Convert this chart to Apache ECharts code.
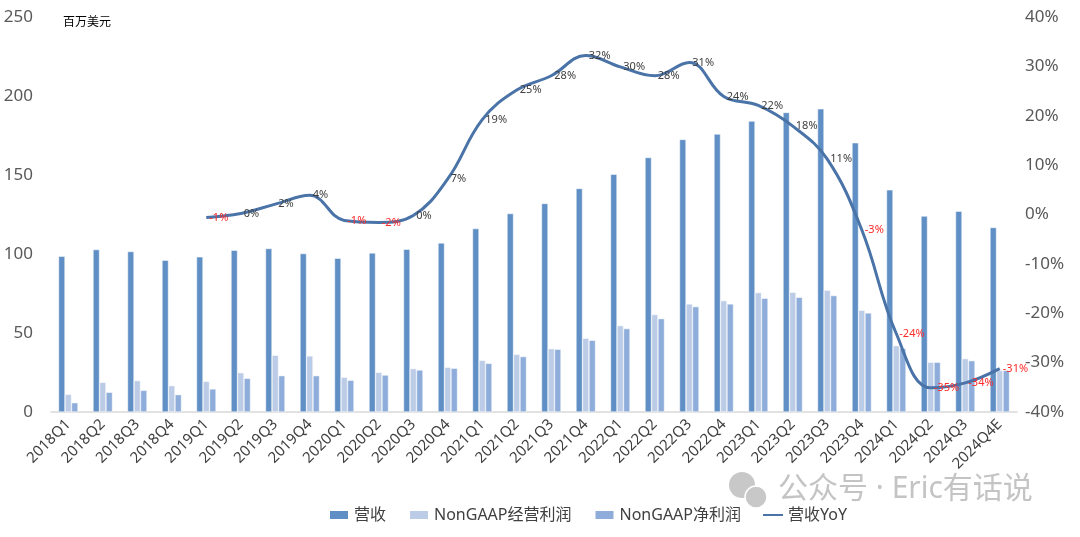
<!DOCTYPE html>
<html>
<head>
<meta charset="utf-8">
<script src="https://cdn.jsdelivr.net/npm/echarts@6/dist/echarts.min.js"></script>
<style>
html,body{margin:0;padding:0;background:#fff;}
#main{width:1080px;height:537px;}
</style>
</head>
<body>
<div id="main"></div>
<script>
// 季度
var quarters = ['2018Q1','2018Q2','2018Q3','2018Q4','2019Q1','2019Q2','2019Q3','2019Q4',
    '2020Q1','2020Q2','2020Q3','2020Q4','2021Q1','2021Q2','2021Q3','2021Q4',
    '2022Q1','2022Q2','2022Q3','2022Q4','2023Q1','2023Q2','2023Q3','2023Q4',
    '2024Q1','2024Q2','2024Q3','2024Q4E'];
// 营收 (百万美元)
var revenue = [98.6,102.8,101.6,96.1,98.2,102.4,103.5,100.3,97.3,100.7,103,107,
    116.1,125.6,132,141.5,150.5,161.1,172.5,175.9,184.1,189.6,191.9,170.4,
    140.6,124,127.1,116.8];
// NonGAAP经营利润
var opIncome = [11.2,18.8,19.9,16.7,19.4,24.9,35.9,35.5,22,25.1,27.5,28.3,
    32.7,36.5,40.1,46.7,54.7,61.7,68.4,70.5,75.6,75.8,77.1,64.4,
    42,31.5,33.8,26.3];
// NonGAAP净利润
var netIncome = [5.9,12.5,13.7,11,14.6,21.3,23,23,20.1,23.4,26.6,27.7,
    30.8,35.1,39.7,45.4,52.8,59.1,66.7,68.4,72,72.6,73.7,62.7,
    40.3,31.5,32.5,26.3];
// 营收YoY (%)
var yoy = [null,null,null,null,-0.6,0.2,2.1,3.9,-1.2,-1.6,-0.2,7.2,
    19.2,25.2,28.1,32.2,29.9,28.1,30.8,23.9,22.1,17.9,11.2,-3.1,
    -24.1,-35.1,-34.1,-31.2];

var fontFamily = '"Noto Sans","Noto Sans CJK SC",sans-serif';

// 负值标签用红色
var yoyData = yoy.map(function(v){
    if(v === null) return null;
    return {value: v, label: {color: v < -0.5 ? '#ff2b2b' : '#404040'}};
});

var chart = echarts.init(document.getElementById('main'));
var option = {
    animation: false,
    textStyle: {fontFamily: fontFamily},
    grid: {left: 51, right: 63, top: 17, bottom: 125},
    legend: {
        bottom: 9,
        left: 323,
        itemWidth: 20,
        itemHeight: 10,
        itemGap: 22,
        textStyle: {fontSize: 16, color: '#404040', fontFamily: fontFamily},
        data: [
            {name: '营收', icon: 'rect'},
            {name: 'NonGAAP经营利润', icon: 'rect'},
            {name: 'NonGAAP净利润', icon: 'rect'},
            {name: '营收YoY', icon: 'path://M0,0L20,0L20,0.01L0,0.01Z M0,4L20,4L20,6L0,6Z M0,10L20,10L20,10.01L0,10.01Z'}
        ]
    },
    graphic: [
        {type: 'text', left: 63, top: 17,
            style: {text: '百万美元', fontSize: 12, fill: '#000', fontFamily: fontFamily}},
        {type: 'circle', shape: {cx: 742, cy: 485, r: 13}, style: {fill: '#c8c8c8'}},
        {type: 'circle', shape: {cx: 756, cy: 497, r: 11}, style: {fill: '#c8c8c8', stroke: '#fff', lineWidth: 1.5}},
        {type: 'text', left: 778, top: 474,
            style: {text: '公众号 · Eric有话说', fontSize: 30, fill: '#c4c4c4', fontFamily: fontFamily}}
    ],
    xAxis: {
        type: 'category',
        data: quarters,
        axisLine: {lineStyle: {color: '#d9d9d9', width: 1.5}},
        axisTick: {show: false},
        axisLabel: {interval: 0, rotate: 45, fontSize: 15, color: '#404040', margin: 10}
    },
    yAxis: [
        {
            type: 'value', min: 0, max: 250, interval: 50,
            splitLine: {show: false},
            axisLine: {show: false},
            axisLabel: {fontSize: 17, color: '#595959', margin: 18}
        },
        {
            type: 'value', min: -40, max: 40, interval: 10,
            splitLine: {show: false},
            axisLine: {show: false},
            axisLabel: {fontSize: 17, color: '#595959', margin: 8, formatter: '{value}%'}
        }
    ],
    series: [
        {
            name: '营收', type: 'bar', data: revenue,
            barWidth: 6.5, barGap: '0%',
            itemStyle: {color: '#5f8fc5', borderColor: '#fff', borderWidth: 0.5}
        },
        {
            name: 'NonGAAP经营利润', type: 'bar', data: opIncome,
            barWidth: 6.5, barGap: '0%',
            itemStyle: {color: '#bccce6', borderColor: '#fff', borderWidth: 0.5}
        },
        {
            name: 'NonGAAP净利润', type: 'bar', data: netIncome,
            barWidth: 6.5, barGap: '0%',
            itemStyle: {color: '#8eadda', borderColor: '#fff', borderWidth: 0.5}
        },
        {
            name: '营收YoY', type: 'line', yAxisIndex: 1, data: yoyData,
            smooth: 0.4, symbol: 'circle', symbolSize: 0.1, showSymbol: true,
            lineStyle: {color: '#4a73a8', width: 3},
            itemStyle: {color: '#4a73a8'},
            label: {
                show: true, position: 'right', distance: 3, fontSize: 11,
                formatter: function(p){
                    var v = Math.round(p.value);
                    return (v === 0 ? 0 : v) + '%';
                }
            },
            labelLayout: {hideOverlap: false}
        }
    ]
};
chart.setOption(option);
</script>
</body>
</html>
